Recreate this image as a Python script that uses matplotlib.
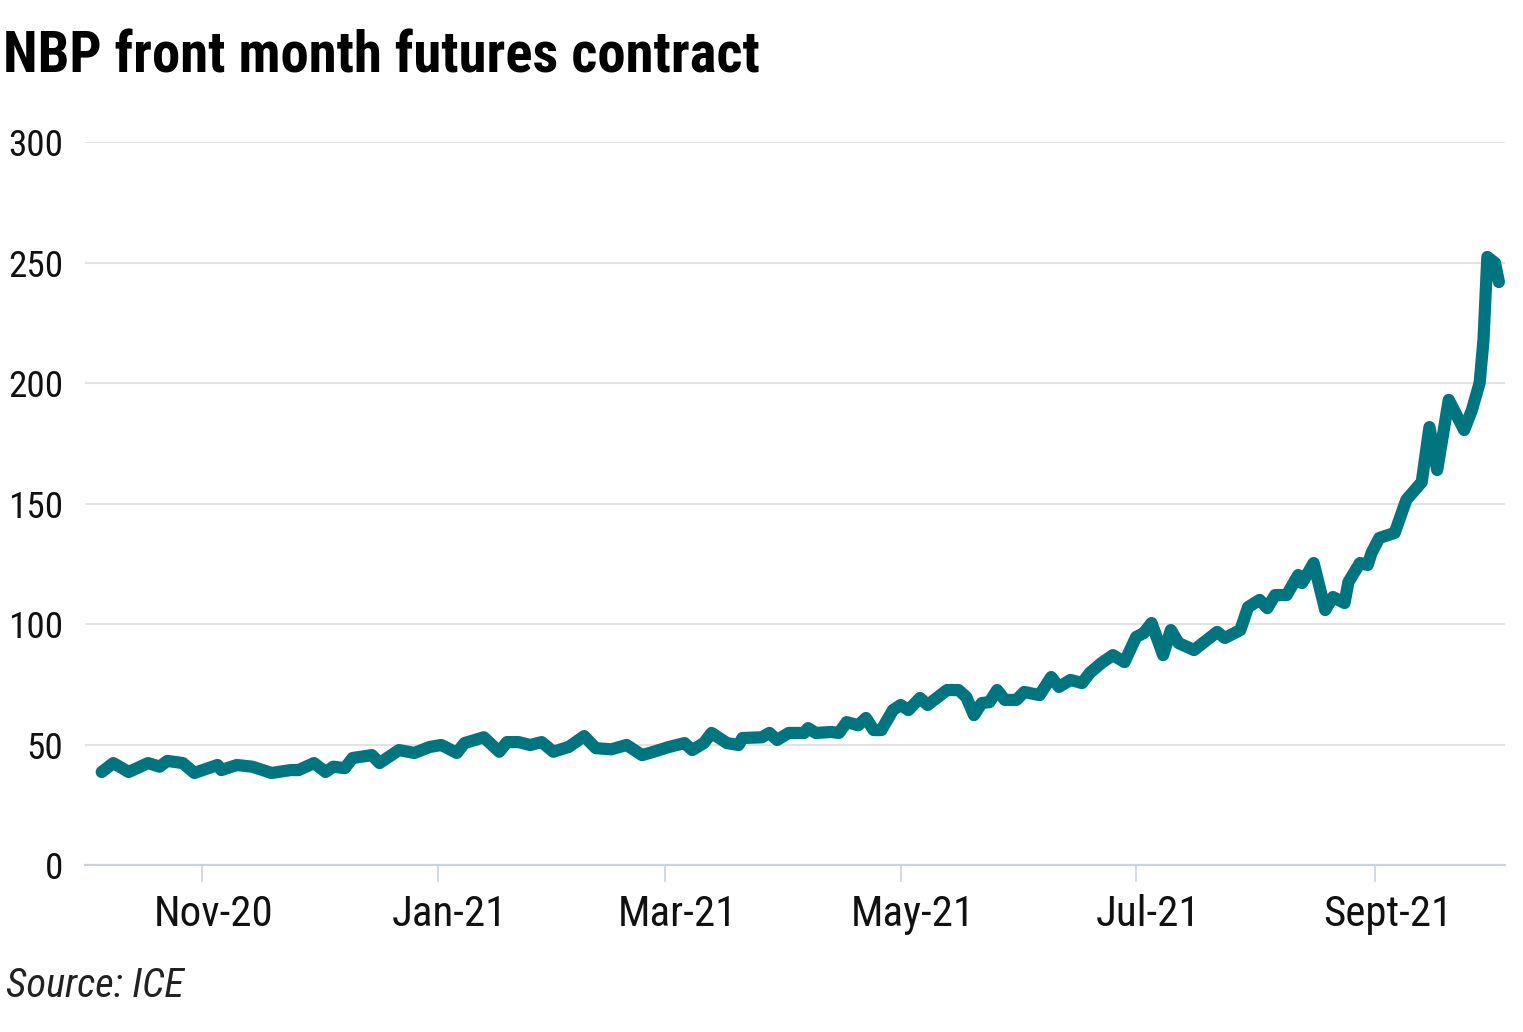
import matplotlib
matplotlib.use("Agg")
import matplotlib.pyplot as plt
import matplotlib.font_manager as fm
import matplotlib.transforms as mtransforms
import pandas as pd

# ---- font choice: prefer a narrow / condensed sans (reference uses a DIN-like face)
_entries = fm.fontManager.ttflist
_names = {f.name for f in _entries}
FONT_FAMILY = ['DejaVu Sans']
FONT_STRETCH = 'normal'
for cand in ['Liberation Sans Narrow', 'Roboto Condensed', 'Open Sans Condensed',
             'DejaVu Sans Condensed', 'Noto Sans Condensed']:
    if cand in _names:
        FONT_FAMILY = [cand, 'DejaVu Sans']
        break
else:
    _cond = [f for f in _entries if str(f.stretch) in ('condensed', 'semi-condensed', '500', '600')]
    _pref = [f for f in _cond if f.name == 'DejaVu Sans'] or _cond
    if _pref:
        FONT_FAMILY = [_pref[0].name, 'DejaVu Sans']
        FONT_STRETCH = 'condensed'
plt.rcParams['font.family'] = FONT_FAMILY
plt.rcParams['font.stretch'] = FONT_STRETCH

dates = [
    "2020-10-06", "2020-10-09", "2020-10-13", "2020-10-18", "2020-10-21", "2020-10-23",
    "2020-10-27", "2020-10-30", "2020-11-05", "2020-11-06", "2020-11-10", "2020-11-14",
    "2020-11-19", "2020-11-24", "2020-11-26", "2020-11-30", "2020-12-03", "2020-12-05",
    "2020-12-08", "2020-12-10", "2020-12-15", "2020-12-17", "2020-12-22", "2020-12-26",
    "2020-12-30", "2021-01-02", "2021-01-06", "2021-01-08", "2021-01-13", "2021-01-17",
    "2021-01-19", "2021-01-22", "2021-01-25", "2021-01-28", "2021-01-31", "2021-02-04",
    "2021-02-08", "2021-02-11", "2021-02-15", "2021-02-19", "2021-02-23", "2021-02-26",
    "2021-03-02", "2021-03-06", "2021-03-08", "2021-03-11", "2021-03-13", "2021-03-17",
    "2021-03-20", "2021-03-21", "2021-03-26", "2021-03-28", "2021-03-30", "2021-04-02",
    "2021-04-06", "2021-04-07", "2021-04-09", "2021-04-13", "2021-04-15", "2021-04-17",
    "2021-04-20", "2021-04-22", "2021-04-24", "2021-04-26", "2021-04-29", "2021-05-01",
    "2021-05-03", "2021-05-06", "2021-05-08", "2021-05-13", "2021-05-16", "2021-05-18",
    "2021-05-20", "2021-05-22", "2021-05-24", "2021-05-26", "2021-05-28", "2021-05-31",
    "2021-06-02", "2021-06-06", "2021-06-09", "2021-06-11", "2021-06-14", "2021-06-17",
    "2021-06-19", "2021-06-22", "2021-06-25", "2021-06-28", "2021-07-01", "2021-07-03",
    "2021-07-05", "2021-07-08", "2021-07-10", "2021-07-12", "2021-07-16", "2021-07-20",
    "2021-07-22", "2021-07-24", "2021-07-28", "2021-07-30", "2021-08-02", "2021-08-04",
    "2021-08-06", "2021-08-09", "2021-08-12", "2021-08-13", "2021-08-16", "2021-08-19",
    "2021-08-21", "2021-08-24", "2021-08-25", "2021-08-28", "2021-08-30", "2021-08-31",
    "2021-09-02", "2021-09-06", "2021-09-09", "2021-09-13", "2021-09-15", "2021-09-17",
    "2021-09-20", "2021-09-24", "2021-09-26", "2021-09-28", "2021-09-29", "2021-09-30",
    "2021-10-02", "2021-10-03",
]
prices = [
    38.6, 42.3, 38.6, 42.3, 40.8, 43.2,
    42.3, 38.2, 41.5, 39.4, 41.5, 40.8,
    38.2, 39.4, 39.4, 42.3, 38.6, 40.8,
    40.2, 44.4, 45.6, 42.3, 47.7, 46.5,
    49.0, 49.8, 46.5, 50.6, 53.0, 47.0,
    51.0, 51.0, 49.8, 51.0, 47.0, 49.0,
    53.5, 48.5, 48.0, 49.8, 45.6, 47.0,
    49.0, 50.6, 47.7, 50.6, 54.8, 50.6,
    49.8, 52.7, 53.0, 54.8, 51.9, 54.8,
    54.8, 56.8, 54.8, 55.2, 54.8, 59.3,
    58.0, 61.0, 56.0, 56.0, 64.3, 66.4,
    64.3, 69.3, 66.4, 72.6, 72.6, 69.7,
    62.2, 67.2, 67.6, 72.6, 68.5, 68.5,
    71.8, 70.5, 78.0, 73.9, 76.8, 75.5,
    79.7, 83.8, 87.1, 84.2, 94.6, 96.3,
    100.4, 87.1, 97.5, 92.1, 89.2, 94.2,
    96.7, 94.2, 97.5, 107.0, 110.0, 106.6,
    112.0, 112.0, 120.3, 117.0, 125.3, 105.8,
    111.2, 108.7, 117.4, 125.3, 124.5, 129.5,
    135.7, 137.8, 151.5, 158.9, 181.7, 163.9,
    193.0, 180.5, 188.8, 200.0, 217.8, 252.3,
    249.8, 241.9,
]
tick_dates = ["2020-11-01", "2021-01-01", "2021-03-01", "2021-05-01", "2021-07-01", "2021-09-01"]
tick_labels = ["Nov-20", "Jan-21", "Mar-21", "May-21", "Jul-21", "Sept-21"]
y_ticks = [0, 50, 100, 150, 200, 250, 300]

title = "NBP front month futures contract"
source = "Source: ICE"
line_color = "#00757f"

x = pd.to_datetime(dates)

fig = plt.figure(figsize=(15.23, 10.32), dpi=100)
ax = fig.add_axes([0.0558, 0.1618, 0.9324, 0.7006])

ax.plot(x, prices, color=line_color, lw=8.8, solid_capstyle='round',
        solid_joinstyle='round', clip_on=False, zorder=3)

ax.set_ylim(0, 300)
ax.set_xlim(pd.Timestamp("2020-10-01 16:00"), pd.Timestamp("2021-10-04 14:00"))

ax.set_yticks(y_ticks)
ax.set_yticklabels([str(v) for v in y_ticks])
ax.yaxis.grid(True, color="#e3e3e3", lw=1.5)
ax.set_axisbelow(True)
ax.tick_params(axis='y', length=0, pad=15.5, labelsize=27, colors="#111111")
for lab in ax.get_yticklabels():
    lab.set_horizontalalignment('right')

ax.set_xticks(pd.to_datetime(tick_dates))
ax.set_xticklabels(tick_labels)
ax.tick_params(axis='x', length=12, width=1.2, color="#c9d3de", pad=9,
               labelsize=27, labelcolor="#111111")
offset = mtransforms.ScaledTranslation(12 / 100, 0, fig.dpi_scale_trans)
for lab in ax.get_xticklabels():
    lab.set_transform(lab.get_transform() + offset)

for s in ["left", "right", "top"]:
    ax.spines[s].set_visible(False)
ax.spines["bottom"].set_color("#c9d3de")
ax.spines["bottom"].set_linewidth(1.6)

t_title = fig.text(0.002, 0.93, title, fontsize=36, fontweight='bold', color="#000000",
                   ha='left', va='baseline')
t_src = fig.text(0.004, 0.034, source, fontsize=26, style='italic', color="#222222",
                 ha='left', va='baseline')

# ---- fit text widths to the reference (pixels) so layout matches with any font
fig.canvas.draw()
r = fig.canvas.get_renderer()

def fit(txt, target):
    w = txt.get_window_extent(r).width
    if w > 0:
        txt.set_fontsize(txt.get_fontsize() * target / w)

fit(t_title, 757)
fit(t_src, 178)
xl = ax.get_xticklabels()[0]
w = xl.get_window_extent(r).width
if w > 0:
    ax.tick_params(axis='x', labelsize=27 * 120 / w)
yl = ax.get_yticklabels()[-1]
w = yl.get_window_extent(r).width
if w > 0:
    ax.tick_params(axis='y', labelsize=27 * 55 / w)

fig.savefig("out.png", dpi=100)
